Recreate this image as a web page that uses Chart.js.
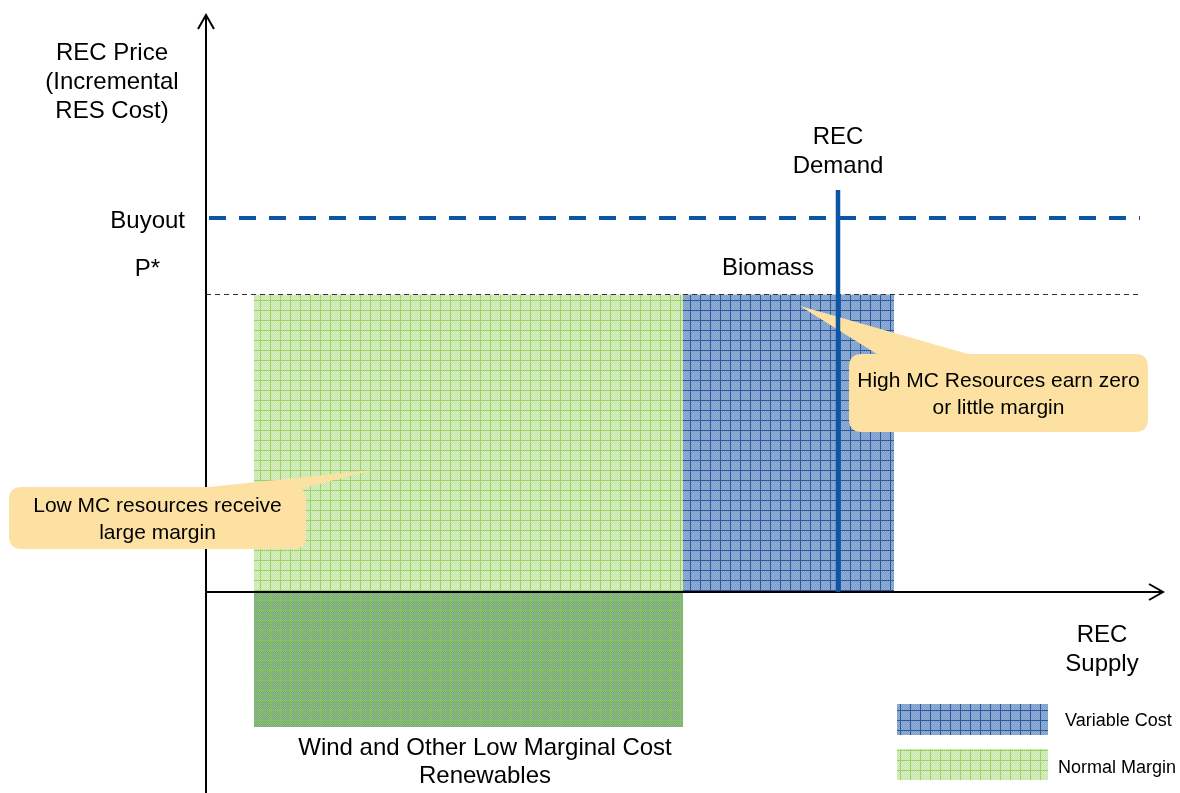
<!DOCTYPE html>
<html><head><meta charset="utf-8">
<script src="https://cdn.jsdelivr.net/npm/chart.js@4.4.1/dist/chart.umd.min.js"></script>
<style>html,body{margin:0;padding:0;background:#fff}#wrap{width:1180px;height:793px;position:relative}</style>
</head><body><div id="wrap"><canvas id="c" width="1180" height="793"></canvas></div>
<script>
// ---- data (conceptual units: REC supply on x, REC price on y) ----
const blockNames = ['Normal Margin', 'Variable Cost'];
const windBlock = [4.8, 47.7];        // x-extent of wind & other low-MC renewables
const biomassBlock = [47.7, 68.8];    // x-extent of biomass
const pStar = 29.75;                  // clearing REC price P*
const buyoutPrice = 37.4;             // alternative compliance / buyout
const windCostBelow = -13.5;          // wind cost below zero (dark green part)
const demandQty = 63.2;               // REC demand (vertical)
const demandTop = 40.2;
const priceLineEnd = 93.4;
const xRange = [-20.6, 97.4];
const yRange = [-20.1, 59.2];
const xAxisEnd = 95.7;
const yAxisEnd = 57.7;
const yTickLabels = ['Buyout', 'P*'];
const yTickValues = [buyoutPrice, pStar];

function makePattern(c1, c2, line) {
  const s = 10;
  const cv = document.createElement('canvas');
  cv.width = s; cv.height = s;
  const g = cv.getContext('2d');
  for (let y = 0; y < s; y++) for (let x = 0; x < s; x++) {
    g.fillStyle = ((x + y) % 2) ? c1 : c2;
    g.fillRect(x, y, 1, 1);
  }
  g.fillStyle = line;
  g.fillRect(0, 0, s, 1);
  g.fillRect(0, 0, 1, s);
  return g.createPattern(cv, 'repeat');
}
const ctx0 = document.getElementById('c').getContext('2d');
const bluePat = makePattern('#7c9cc8', '#94b0d8', '#2a5a9c');
const greenPat = makePattern('#c6e5a8', '#dbefc6', '#9ad266');
const dkGreenPat = makePattern('#79a977', '#8fba89', '#80c850');

const BLUE = '#0b56a4';
const FONT = '"Liberation Sans", Arial, sans-serif';

function seg(x1, y1, x2, y2) { return [{x: x1, y: y1}, {x: x2, y: y2}]; }

const datasets = [
  {label: 'Normal Margin', data: seg(windBlock[0], pStar, windBlock[1], pStar), fill: {value: 0},
   backgroundColor: greenPat, borderWidth: 0, order: 10},
  {label: 'Wind below', data: seg(windBlock[0], windCostBelow, windBlock[1], windCostBelow), fill: {value: 0},
   backgroundColor: dkGreenPat, borderWidth: 0, order: 10},
  {label: 'Variable Cost', data: seg(biomassBlock[0], pStar, biomassBlock[1], pStar), fill: {value: 0},
   backgroundColor: bluePat, borderWidth: 0, order: 10},
  {label: 'P*', data: seg(0, pStar, priceLineEnd, pStar), borderColor: '#333', borderWidth: 1,
   borderDash: [5, 4], fill: false, order: 8},
  {label: 'Buyout', data: seg(0, buyoutPrice, priceLineEnd, buyoutPrice), borderColor: BLUE, borderWidth: 4,
   borderDash: [17, 13], borderDashOffset: -3, fill: false, order: 7},
  {label: 'yaxis', data: seg(0, yRange[0], 0, yAxisEnd), borderColor: '#000', borderWidth: 2, fill: false, order: 6},
  {label: 'xaxis', data: seg(0, 0, xAxisEnd, 0), borderColor: '#000', borderWidth: 2, fill: false, order: 6},
  {label: 'Demand', data: seg(demandQty, 0, demandQty, demandTop), borderColor: BLUE, borderWidth: 4.5, fill: false, order: 1}
];
datasets.forEach(d => { d.showLine = true; d.pointRadius = 0; d.borderCapStyle = 'butt'; });

function roundRect(g, x, y, w, h, r) {
  g.beginPath();
  g.moveTo(x + r, y);
  g.lineTo(x + w - r, y); g.quadraticCurveTo(x + w, y, x + w, y + r);
  g.lineTo(x + w, y + h - r); g.quadraticCurveTo(x + w, y + h, x + w - r, y + h);
  g.lineTo(x + r, y + h); g.quadraticCurveTo(x, y + h, x, y + h - r);
  g.lineTo(x, y + r); g.quadraticCurveTo(x, y, x + r, y);
  g.closePath();
}
function callout(g, box, tip, base, lines, ly) {
  g.save();
  g.fillStyle = '#fde1a3';
  g.beginPath();
  g.moveTo(tip[0], tip[1]); g.lineTo(base[0], base[1]); g.lineTo(base[2], base[3]); g.closePath(); g.fill();
  roundRect(g, box[0], box[1], box[2], box[3], 13); g.fill();
  g.fillStyle = '#000';
  g.font = '21px ' + FONT;
  g.textAlign = 'center'; g.textBaseline = 'middle';
  const cx = box[0] + box[2] / 2;
  lines.forEach((t, i) => g.fillText(t, cx, ly[i]));
  g.restore();
}

const drawPlugin = {
  id: 'decor',
  beforeDatasetDraw(chart, args) {
    if (chart.data.datasets[args.index].label !== 'Demand') return;
    const g = chart.ctx;
    callout(g, [849, 354, 299, 78], [800, 306], [880, 356, 975, 356],
      ['High MC Resources earn zero', 'or little margin'], [381, 408]);
    callout(g, [9, 487, 297, 62], [372, 470], [190, 489, 300, 489],
      ['Low MC resources receive', 'large margin'], [506, 533]);
  },
  afterDatasetsDraw(chart) {
    const g = chart.ctx, xs = chart.scales.x, ys = chart.scales.y;
    g.save();
    // arrowheads
    g.strokeStyle = '#000'; g.lineWidth = 2;
    const ax = xs.getPixelForValue(0), ay = ys.getPixelForValue(yAxisEnd);
    g.beginPath(); g.moveTo(ax - 8, ay + 14); g.lineTo(ax, ay); g.lineTo(ax + 8, ay + 14); g.stroke();
    const bx = xs.getPixelForValue(xAxisEnd), by = ys.getPixelForValue(0);
    g.beginPath(); g.moveTo(bx - 14, by - 8); g.lineTo(bx, by); g.lineTo(bx - 14, by + 8); g.stroke();
    // texts
    g.fillStyle = '#000'; g.textBaseline = 'middle';
    g.font = '24px ' + FONT; g.textAlign = 'center';
    [['REC Price', 53], ['(Incremental', 82], ['RES Cost)', 111]].forEach(t => g.fillText(t[0], 112, t[1]));
    g.textAlign = 'right';
    g.fillText(yTickLabels[0], 185, ys.getPixelForValue(yTickValues[0]) + 3);
    g.fillText(yTickLabels[1], 160, ys.getPixelForValue(yTickValues[1]) - 25);
    g.textAlign = 'center';
    const dx = xs.getPixelForValue(demandQty);
    g.fillText('REC', dx, 137); g.fillText('Demand', dx, 166);
    g.fillText('Biomass', 768, 268);
    g.fillText('REC', 1102, 635); g.fillText('Supply', 1102, 664);
    g.fillText('Wind and Other Low Marginal Cost', 485, 748);
    g.fillText('Renewables', 485, 776);
    // legend
    g.fillStyle = bluePat; g.fillRect(897, 704, 151, 31);
    g.fillStyle = greenPat; g.fillRect(897, 749, 151, 31);
    g.fillStyle = '#000'; g.font = '18px ' + FONT; g.textAlign = 'left';
    g.fillText(blockNames[1], 1065, 721);
    g.fillText(blockNames[0], 1058, 768);
    g.restore();
  }
};

new Chart(ctx0, {
  type: 'scatter',
  data: {datasets},
  options: {
    responsive: false, animation: false, events: [],
    layout: {padding: 0},
    plugins: {legend: {display: false}, tooltip: {enabled: false}},
    scales: {
      x: {type: 'linear', min: xRange[0], max: xRange[1], display: false},
      y: {type: 'linear', min: yRange[0], max: yRange[1], display: false}
    }
  },
  plugins: [drawPlugin]
});
</script></body></html>
